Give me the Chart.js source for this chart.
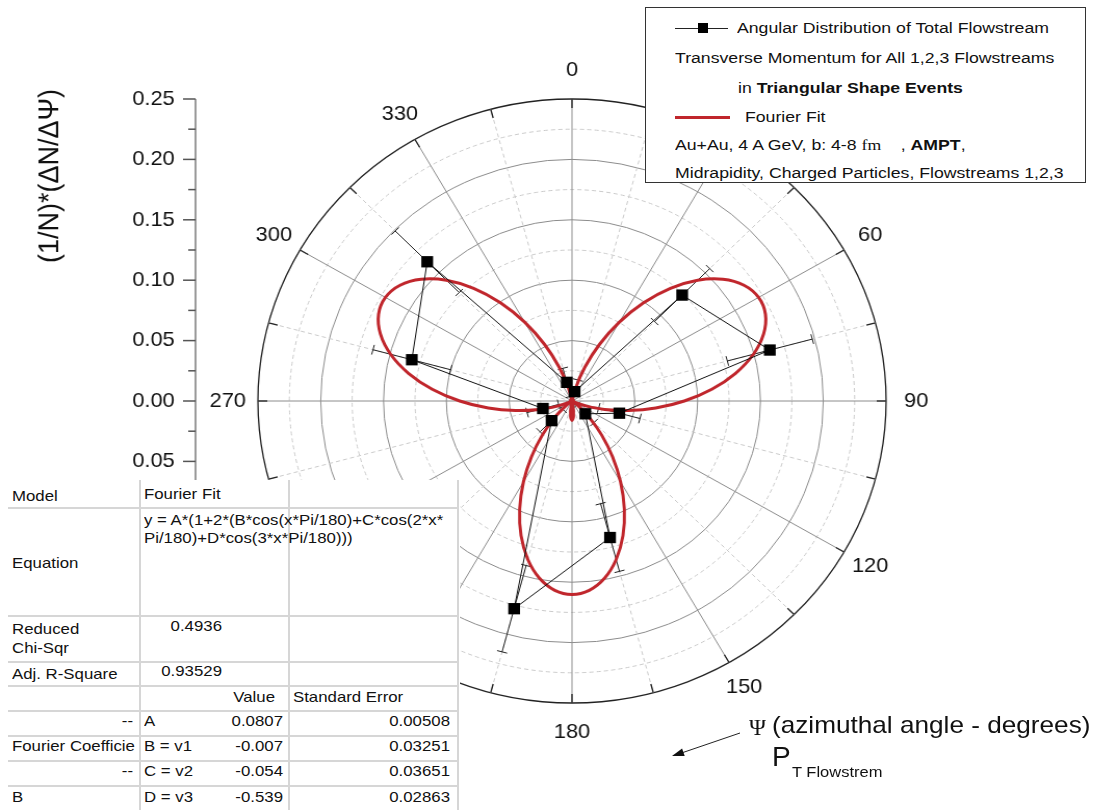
<!DOCTYPE html>
<html>
<head>
<meta charset="utf-8">
<script src="https://cdn.jsdelivr.net/npm/chart.js@4.4.1/dist/chart.umd.min.js"></script>
<style>
  html, body { margin: 0; padding: 0; background: #fff; }
  body { width: 1100px; height: 810px; position: relative; overflow: hidden;
         font-family: "Liberation Sans", Arial, sans-serif; color: #111; }
  #plot { position: absolute; left: 0; top: 0; width: 1100px; height: 810px;
          transform: scaleX(1.04); transform-origin: 572px 0; }
  .t { position: absolute; white-space: pre; line-height: 1; }
  .box { position: absolute; background: #fff; }
</style>
</head>
<body>
<div id="plot"><canvas id="polar" width="1100" height="810"></canvas></div>

<script>
// angle labels every 30 degrees
const angleLabels = ['0', '30', '60', '90', '120', '150', '180', '210', '240', '270', '300', '330'];

// measured flowstream distribution (bin centres, degrees)
const flowAngles = [15, 45, 75, 105, 135, 165, 195, 225, 255, 285, 315, 345];
const flowValues = [0.008, 0.124, 0.163, 0.039, 0.015, 0.117, 0.178, 0.023, 0.024, 0.132, 0.163, 0.016];
const flowErrors = [0.010, 0.031, 0.035, 0.017, 0.010, 0.029, 0.037, 0.013, 0.013, 0.032, 0.036, 0.012];

// Fourier fit curve read every 5 degrees, 0..355
const fitStep = 5;
const fitValues = [
  -0.0161, -0.0130, -0.0039, 0.0106, 0.0295, 0.0516, 0.0754, 0.0993, 0.1218, 0.1414, 0.1568, 0.1671,
  0.1715, 0.1699, 0.1623, 0.1495, 0.1322, 0.1117, 0.0894, 0.0669, 0.0456, 0.0270, 0.0124, 0.0028,
  -0.0014, 0.0003, 0.0076, 0.0200, 0.0366, 0.0561, 0.0773, 0.0986, 0.1186, 0.1358, 0.1490, 0.1573,
  0.1601, 0.1573, 0.1490, 0.1358, 0.1186, 0.0986, 0.0773, 0.0561, 0.0366, 0.0200, 0.0076, 0.0003,
  -0.0014, 0.0028, 0.0124, 0.0270, 0.0456, 0.0669, 0.0894, 0.1117, 0.1322, 0.1495, 0.1623, 0.1699,
  0.1715, 0.1671, 0.1568, 0.1414, 0.1218, 0.0993, 0.0754, 0.0516, 0.0295, 0.0106, -0.0039, -0.0130
];

const fitLabels = fitValues.map((_, i) => String(i * fitStep));
const flowSeries = fitValues.map(() => null);
flowAngles.forEach((a, k) => { flowSeries[a / fitStep] = flowValues[k]; });

const isMajor = v => Math.round(v * 1000) % 50 === 0;
const FONT = '"Liberation Sans", Arial, sans-serif';

const polarDecor = {
  id: 'polarDecor',
  beforeDatasetsDraw(chart) {
    const s = chart.scales.r;
    const ctx = chart.ctx;
    const R = s.drawingArea;
    ctx.save();
    // small ticks inside the outer ring every 15 degrees
    ctx.strokeStyle = '#222';
    ctx.lineWidth = 1.3;
    for (let i = 0; i < fitLabels.length; i += 3) {
      const a = s.getPointPosition(i, R);
      const b = s.getPointPosition(i, R - 9);
      ctx.beginPath();
      ctx.moveTo(a.x, a.y);
      ctx.lineTo(b.x, b.y);
      ctx.stroke();
    }
    // radial error bars
    ctx.strokeStyle = '#222';
    ctx.lineWidth = 1;
    flowAngles.forEach((ang, k) => {
      const i = ang / fitStep;
      const p1 = s.getPointPositionForValue(i, flowValues[k] - flowErrors[k]);
      const p2 = s.getPointPositionForValue(i, flowValues[k] + flowErrors[k]);
      const len = Math.hypot(p2.x - p1.x, p2.y - p1.y) || 1;
      const nx = -(p2.y - p1.y) / len * 5;
      const ny = (p2.x - p1.x) / len * 5;
      ctx.beginPath();
      ctx.moveTo(p1.x, p1.y); ctx.lineTo(p2.x, p2.y);
      ctx.moveTo(p1.x - nx, p1.y - ny); ctx.lineTo(p1.x + nx, p1.y + ny);
      ctx.moveTo(p2.x - nx, p2.y - ny); ctx.lineTo(p2.x + nx, p2.y + ny);
      ctx.stroke();
    });
    ctx.restore();
  },
  afterDraw(chart) {
    const s = chart.scales.r;
    const ctx = chart.ctx;
    const R = s.drawingArea;
    ctx.save();

    // angle labels
    ctx.fillStyle = '#111';
    ctx.font = '21px ' + FONT;
    ctx.textAlign = 'center';
    ctx.textBaseline = 'middle';
    angleLabels.forEach((lab, k) => {
      const p = s.getPointPosition(k * 30 / fitStep, R + 29);
      ctx.fillText(lab, p.x, p.y);
    });

    // left radial axis
    const axX = 210;
    ctx.strokeStyle = '#9a9a9a';
    ctx.lineWidth = 2;
    ctx.beginPath();
    ctx.moveTo(axX, s.yCenter - R);
    ctx.lineTo(axX, s.yCenter + R * 0.5);
    ctx.stroke();
    ctx.textAlign = 'right';
    s.ticks.forEach(t => {
      const d = s.getDistanceFromCenterForValue(t.value);
      const major = isMajor(t.value);
      [-1, 1].forEach(sg => {
        if (sg === 1 && d === 0) return;
        const y = s.yCenter + sg * d;
        ctx.strokeStyle = '#555';
        ctx.lineWidth = 1.5;
        ctx.beginPath();
        ctx.moveTo(axX - (major ? 12 : 7), y);
        ctx.lineTo(axX, y);
        ctx.stroke();
        if (major) ctx.fillText(t.value.toFixed(2), axX - 20, y);
      });
    });

    // axis title
    ctx.translate(71, 176);
    ctx.rotate(-Math.PI / 2);
    ctx.textAlign = 'center';
    ctx.font = '27px ' + FONT;
    ctx.fillText('(1/N)*(\u0394N/\u0394\u03A8)', 0, 0);
    ctx.restore();
  }
};

new Chart(document.getElementById('polar'), {
  type: 'radar',
  data: {
    labels: fitLabels,
    datasets: [
      {
        label: 'Angular Distribution of Total Flowstream',
        data: flowSeries,
        borderColor: '#111',
        borderWidth: 1,
        pointStyle: 'rect',
        pointRadius: 8,
        pointBorderWidth: 0,
        pointBackgroundColor: '#000',
        fill: false,
        spanGaps: true,
        tension: 0
      },
      {
        label: 'Fourier Fit',
        data: fitValues,
        borderColor: '#c0262c',
        borderWidth: 3,
        pointRadius: 0,
        fill: false,
        tension: 0.3
      }
    ]
  },
  options: {
    responsive: false,
    animation: false,
    layout: { padding: { left: 270, right: 226, top: 99, bottom: 107 } },
    plugins: { legend: { display: false }, tooltip: { enabled: false } },
    scales: {
      r: {
        min: 0,
        max: 0.25,
        ticks: { display: false, stepSize: 0.025 },
        pointLabels: { display: false },
        grid: {
          circular: true,
          color: c => !c.tick ? '#8c8c8c' : (Math.abs(c.tick.value - 0.25) < 1e-6 ? '#222' : (isMajor(c.tick.value) ? '#8c8c8c' : '#cacaca')),
          lineWidth: c => (c.tick && Math.abs(c.tick.value - 0.25) < 1e-6) ? 1.3 : 1
        },
        border: { dash: c => (!c.tick || isMajor(c.tick.value)) ? [] : [4, 3] },
        angleLines: {
          color: c => (c.index * fitStep) % 30 === 0 ? '#8c8c8c' : '#cacaca',
          lineWidth: c => (c.index * fitStep) % 15 === 0 ? 1 : 0,
          borderDash: c => (c.index * fitStep) % 30 === 0 ? [] : [4, 3]
        }
      }
    }
  },
  plugins: [polarDecor]
});

// ---- overlays: legend, fit table, annotation ----
function box(x, y, w, h, css) {
  const el = document.createElement('div');
  el.className = 'box';
  Object.assign(el.style, { left: x + 'px', top: y + 'px', width: w + 'px', height: h + 'px' }, css || {});
  document.body.appendChild(el);
  return el;
}
function put(html, x, y, size, opts) {
  opts = opts || {};
  const el = document.createElement('div');
  el.className = 't';
  el.innerHTML = html;
  el.style.left = x + 'px';
  el.style.top = (y - size * 0.5) + 'px';
  el.style.fontSize = size + 'px';
  if (opts.font) el.style.fontFamily = opts.font;
  const k = opts.k || 1;
  const shift = opts.align === 'right' ? ' translateX(-100%)' : (opts.align === 'center' ? ' translateX(-50%)' : '');
  el.style.transformOrigin = '0 50%';
  el.style.transform = 'scaleX(' + k + ')' + shift;
  document.body.appendChild(el);
}

// legend
box(645, 7, 439, 174, { border: '1.5px solid #333' });
box(675, 27.5, 53, 1, { background: '#222' });
box(698, 23, 10, 10, { background: '#000' });
box(675, 115.5, 55, 3, { background: '#c0262c' });
const LK = 1.14, LS = 15.5;
put('Angular Distribution of Total Flowstream', 737, 28, LS, { k: LK });
put('Transverse Momentum for All 1,2,3 Flowstreams', 675, 58, LS, { k: LK });
put('in <b>Triangular Shape Events</b>', 738, 88, LS, { k: LK });
put('Fourier Fit', 745, 117, LS, { k: LK });
put('Au+Au, 4 A GeV, b: 4-8 <span style="font-family:\'Liberation Serif\',serif">fm</span>    , <b>AMPT</b>,', 675, 145, LS, { k: LK });
put('Midrapidity, Charged Particles, Flowstreams 1,2,3', 675, 173, LS, { k: LK });

// fit result table
box(0, 480, 460, 330);
[508, 616, 662, 686, 711, 736, 761, 786].forEach(y => box(8, y - 1, 450, 2, { background: '#d6d6d6' }));
[140, 289, 458].forEach(x => box(x - 0.75, 480, 1.5, 330, { background: '#d6d6d6' }));
const TK = 1.12, TS = 15;
put('Model', 12, 495, TS, { k: TK });
put('Fourier Fit', 144, 493, TS, { k: TK });
put('y = A*(1+2*(B*cos(x*Pi/180)+C*cos(2*x*', 144, 519, TS, { k: TK });
put('Pi/180)+D*cos(3*x*Pi/180)))', 144, 537, TS, { k: TK });
put('Equation', 12, 562, TS, { k: TK });
put('Reduced', 12, 628, TS, { k: TK });
put('Chi-Sqr', 12, 647, TS, { k: TK });
put('0.4936', 222, 625, TS, { k: TK, align: 'right' });
put('Adj. R-Square', 12, 673, TS, { k: TK });
put('0.93529', 222, 670, TS, { k: TK, align: 'right' });
put('Value', 275, 696, TS, { k: TK, align: 'right' });
put('Standard Error', 293, 696, TS, { k: TK });

const paramRows = [
  ['--', 'A', '0.0807', '0.00508', 720],
  ['Fourier Coefficie', 'B = v1', '-0.007', '0.03251', 745],
  ['--', 'C = v2', '-0.054', '0.03651', 770],
  ['B', 'D = v3', '-0.539', '0.02863', 796]
];
paramRows.forEach(r => {
  if (r[0] === '--') put('--', 133, r[4], TS, { k: TK, align: 'right' });
  else put(r[0], 12, r[4], TS, { k: TK });
  put(r[1], 144, r[4], TS, { k: TK });
  put(r[2], 283, r[4], TS, { k: TK, align: 'right' });
  put(r[3], 450, r[4], TS, { k: TK, align: 'right' });
});

// azimuthal-angle annotation
put('\u03A8', 749, 727, 23, { font: '"Liberation Serif", serif' });
put('(azimuthal angle - degrees)', 772, 725, 24, { k: 1.09 });
put('P', 772, 757, 28);
put('T Flowstrem', 792, 771, 15, { k: 1.1 });
document.body.insertAdjacentHTML('beforeend',
  '<svg style="position:absolute;left:0;top:0" width="1100" height="810">' +
  '<line x1="740" y1="733" x2="680" y2="753.5" stroke="#222" stroke-width="1"/>' +
  '<polygon points="672,756 684.7,756 682.1,748.4" fill="#111"/></svg>');
</script>
</body>
</html>
